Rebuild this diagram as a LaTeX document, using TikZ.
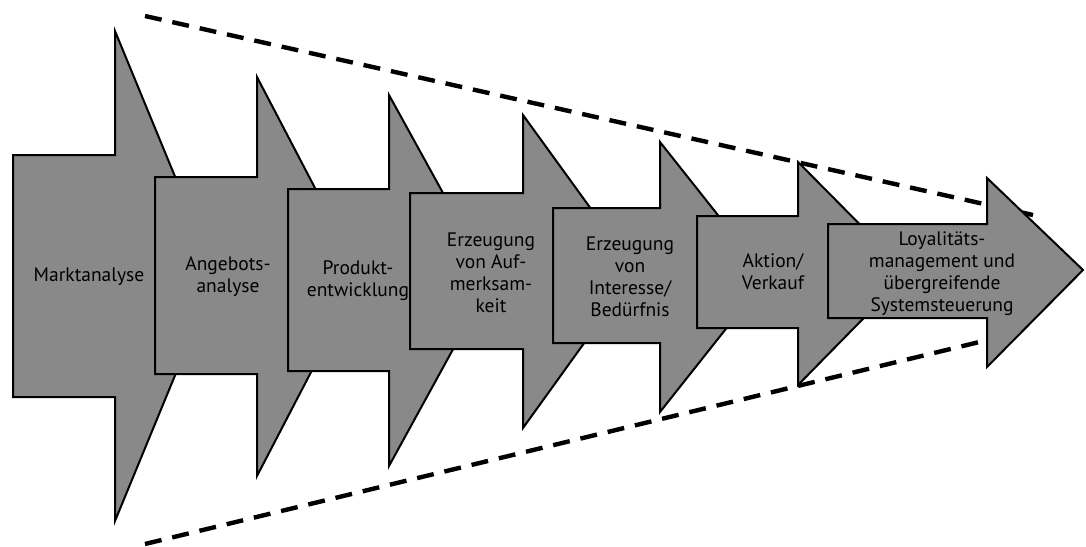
\documentclass[tikz,border=0pt]{standalone}
\usepackage{fontspec}
\setmainfont{PT Sans}
\definecolor{stagegray}{RGB}{137,137,137}
\tikzset{
  stage/.style={draw=black, fill=stagegray, line width=2pt, line join=miter},
  stagetext/.style={align=center, inner sep=0pt, font=\fontsize{19.5}{22}\selectfont},
  funnel/.style={line width=4.4pt, dash pattern=on 17pt off 11pt}
}

\begin{document}
\begin{tikzpicture}[x=1pt, y=-1pt]
\useasboundingbox (0,0) rectangle (1086,546);

% Funnel
\coordinate (ftop1) at (145,16);
\coordinate (ftop2) at (1033,215);
\coordinate (fbot1) at (145,544);
\coordinate (fbot2) at (1000,337);
\draw[funnel] (ftop1) -- (ftop2);
\draw[funnel] (fbot1) -- (fbot2);

% Marktanalyse
\draw[stage] (13,155) -- (115,155) -- (115,31) -- (216,276) -- (115,521) -- (115,397) -- (13,397) -- cycle;
\node[stagetext] (markt) at (89,277) {Marktanalyse};

% Angebotsanalyse
\draw[stage] (155,177) -- (257,177) -- (257,77) -- (361,276) -- (257,476) -- (257,374) -- (155,374) -- cycle;
\node[stagetext] (angebot) at (228,277) {Angebots-\\analyse};

% Produktentwicklung
\draw[stage] (288,189) -- (389,189) -- (389,95) -- (491,280) -- (389,466) -- (389,371) -- (288,371) -- cycle;
\node[stagetext] (produkt) at (358,281) {Produkt-\\entwicklung};

% Aufmerksamkeit
\draw[stage] (410,193) -- (523,193) -- (523,115) -- (636,271) -- (523,428) -- (523,349) -- (410,349) -- cycle;
\node[stagetext] (aufmerk) at (491,273) {Erzeugung\\von Auf-\\merksam-\\keit};

% Interesse
\draw[stage] (553,208) -- (660,208) -- (660,142) -- (767,277) -- (660,412) -- (660,343) -- (553,343) -- cycle;
\node[stagetext] (interesse) at (630,277) {Erzeugung\\von\\Interesse/\\Bedürfnis};

% Aktion
\draw[stage] (697,216) -- (798,216) -- (798,162) -- (908,273) -- (798,385) -- (798,328) -- (697,328) -- cycle;
\node[stagetext] (aktion) at (773,272) {Aktion/\\Verkauf};

% Loyalitaet
\draw[stage] (828,224) -- (987,224) -- (987,178) -- (1083,270) -- (987,367) -- (987,318) -- (828,318) -- cycle;
\node[stagetext] (loyal) at (942,274) {Loyalitäts-\\management und\\übergreifende\\Systemsteuerung};
\end{tikzpicture}
\end{document}
